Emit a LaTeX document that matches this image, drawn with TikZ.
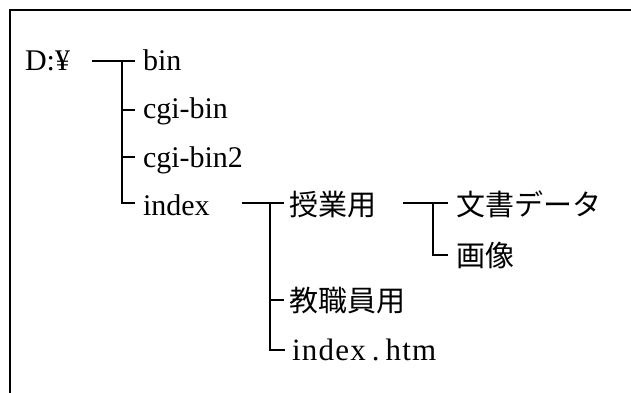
\documentclass[tikz,border=0pt]{standalone}
\usepackage{fontspec}
\setmainfont{Liberation Serif}
\newfontfamily\jp{Noto Sans CJK JP}
\begin{document}
\begin{tikzpicture}[x=1pt,y=-1pt,
  lab/.style={anchor=base west,inner sep=0pt,outer sep=0pt,font=\fontsize{30}{30}\selectfont},
  jlab/.style={anchor=base west,inner sep=0pt,outer sep=0pt,font=\fontsize{29}{29}\selectfont\jp},
  conn/.style={line width=2pt},
  frame/.style={line width=2.6pt}]
\useasboundingbox (0,0) rectangle (631,392);
\draw[frame] (633,10) -- (10,10) -- (10,394);
% labels
\node[lab] (root) at (25,70) {D:¥};
\node[lab] (bin) at (143,70) {bin};
\node[lab] (cgi) at (143,118) {cgi-bin};
\node[lab] (cgi2) at (143,167) {cgi-bin2};
\node[lab] (idx) at (143,215) {index};
\node[jlab] (jyu) at (289,215) {授業用};
\node[jlab] (kyo) at (289,311) {教職員用};
\node[lab,font=\fontsize{31}{31}\selectfont\addfontfeature{LetterSpace=4}] (htm) at (292,360) {index\hspace{6pt}.\hspace{6pt}htm};
\node[jlab] (bun) at (456,215) {文書データ};
\node[jlab] (gaz) at (456,266) {画像};
% connectors: root
\coordinate (r0) at ([xshift=22pt,yshift=9pt]root.base east);
\coordinate (rj) at (122,61);
\coordinate (tbin) at ([xshift=-8pt,yshift=9pt]bin.base west);
\coordinate (tcgi) at ([xshift=-8pt,yshift=8pt]cgi.base west);
\coordinate (tcgi2) at ([xshift=-8pt,yshift=10pt]cgi2.base west);
\coordinate (tidx) at ([xshift=-8pt,yshift=12pt]idx.base west);
\draw[conn] (r0) -- (tbin);
\draw[conn] (rj) -- (rj |- tidx) -- (tidx);
\draw[conn] (rj |- tcgi) -- (tcgi);
\draw[conn] (rj |- tcgi2) -- (tcgi2);
% index
\coordinate (i0) at ([xshift=32pt,yshift=12pt]idx.base east);
\coordinate (ij) at (270,203);
\coordinate (tjyu) at ([xshift=-5pt,yshift=12pt]jyu.base west);
\coordinate (tkyo) at ([xshift=-5pt,yshift=11pt]kyo.base west);
\coordinate (thtm) at ([xshift=-7pt,yshift=10pt]htm.base west);
\draw[conn] (i0) -- (tjyu);
\draw[conn] (ij) -- (ij |- thtm) -- (thtm);
\draw[conn] (ij |- tkyo) -- (tkyo);
% jyugyo
\coordinate (j0) at (403,203);
\coordinate (jj) at (433,203);
\coordinate (tbun) at ([xshift=-8pt,yshift=12pt]bun.base west);
\coordinate (tgaz) at ([xshift=-8pt,yshift=11pt]gaz.base west);
\draw[conn] (j0) -- (tbun);
\draw[conn] (jj) -- (jj |- tgaz) -- (tgaz);
\end{tikzpicture}
\end{document}
